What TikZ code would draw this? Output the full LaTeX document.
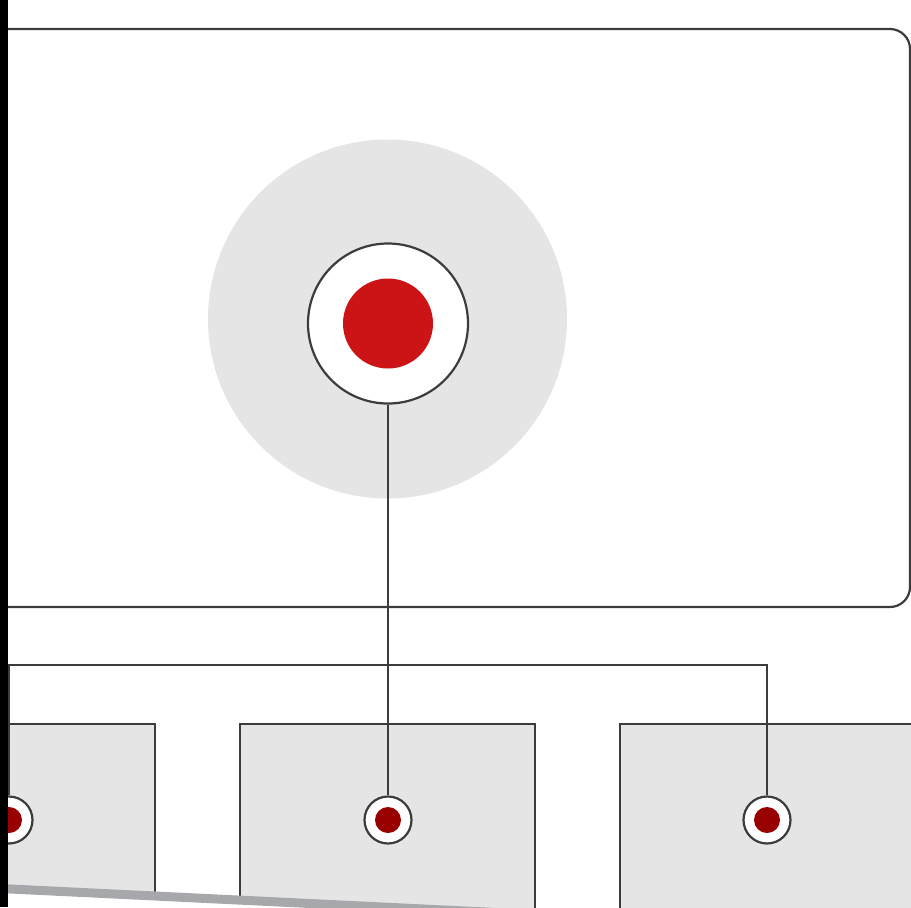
\documentclass[tikz,border=0pt]{standalone}
\usetikzlibrary{positioning}
\definecolor{edgegray}{HTML}{3C3C3C}
\definecolor{panelgray}{HTML}{E5E5E5}
\definecolor{hubred}{HTML}{CC1417}
\definecolor{portred}{HTML}{990000}
\definecolor{floorgray}{HTML}{A7A8AC}
\tikzset{
  halo/.style={circle, fill=panelgray, minimum size=179.5pt, inner sep=0pt},
  hub/.style={circle, draw=edgegray, line width=1.1pt, fill=white, minimum size=80pt, inner sep=0pt},
  hubdot/.style={circle, fill=hubred, minimum size=45pt, inner sep=0pt},
  port/.style={circle, draw=edgegray, line width=1.1pt, fill=white, minimum size=23.5pt, inner sep=0pt},
  portdot/.style={circle, fill=portred, minimum size=13pt, inner sep=0pt},
  wire/.style={draw=edgegray, line width=1.1pt},
  panel/.style={draw=edgegray, fill=panelgray, line width=1.1pt},
}
\begin{document}
\begin{tikzpicture}[x=0.5pt, y=-0.5pt]
    \useasboundingbox (0,0) rectangle (911,907);
    \clip (0,0) rectangle (911,907);

    % Outer frame
    \draw[edgegray, line width=1.1pt, rounded corners=10pt] (-30,29) rectangle (910,607);

    % Hub with halo
    \node[halo] (halo) at (387.5,319) {};
    \node[hub] (hub) at (388,323.5) {};
    \node[hubdot] (hubdot) at (hub) {};

    % Panels below
    \foreach \l/\r in {-30/155, 240/535, 620/960} {
        \draw[panel] (\l,724) rectangle (\r,940);
    }

    % Ports
    \foreach \n/\x in {a/9, b/388, c/767} {
        \node[port] (port\n) at (\x,820) {};
        \node[portdot] (dot\n) at (port\n) {};
    }

    % Wiring
    \coordinate (split) at (388,665);
    \draw[wire] (hub.south) -- (portb.north);
    \draw[wire] (porta.north) |- (split) -| (portc.north);

    % Floor edge
    \fill[white] (-10,888) -- (620,918.5) -- (620,1000) -- (-10,1000) -- cycle;
    \draw[floorgray, line width=4.5pt] (-10,888) -- (620,918.5);

    % Left bar
    \fill[black] (0,0) rectangle (8,907);
\end{tikzpicture}
\end{document}
